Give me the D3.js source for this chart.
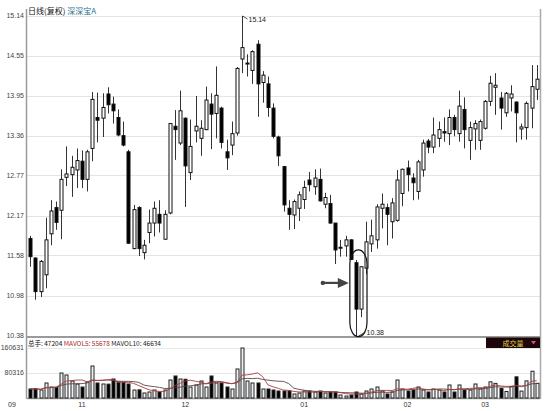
<!DOCTYPE html>
<html>
<head>
<meta charset="utf-8">
<script src="https://cdn.jsdelivr.net/npm/d3@7"></script>
<style>
body{margin:0;background:#fff;}
svg{display:block;font-family:"Liberation Sans",Arial,sans-serif;}
.cjk{font-family:"Noto Sans CJK SC","Liberation Sans",sans-serif;}
</style>
</head>
<body>
<svg id="chart" width="553" height="411"></svg>
<script>
// daily candles
var openPrices = [11.83,11.54,11.04,11.29,11.90,12.29,12.25,12.74,12.78,12.85,
  12.98,12.71,13.17,13.63,13.62,13.98,13.83,13.63,13.36,13.12,
  11.68,12.29,11.62,11.92,12.06,12.19,11.82,12.21,13.50,13.25,
  13.62,12.81,13.43,13.32,13.45,13.83,13.69,13.77,13.12,13.22,
  13.40,14.50,14.43,14.33,14.72,14.15,14.13,13.77,13.34,12.90,
  12.28,12.18,12.28,12.41,12.70,12.60,12.71,12.34,12.35,12.06,
  11.69,11.72,11.81,11.47,10.78,11.39,11.75,11.81,12.28,12.29,
  12.08,12.10,12.50,12.88,12.73,12.53,12.85,13.28,13.19,13.32,
  13.42,13.39,13.63,13.39,13.75,13.29,13.46,13.29,13.47,13.87,
  14.08,13.92,13.70,13.92,13.86,13.46,13.48,13.77,14.05];
var highPrices = [11.87,11.55,11.51,12.14,12.40,12.38,12.86,13.20,13.06,13.17,
  13.14,13.15,14.01,14.00,13.99,14.08,13.94,13.75,13.57,13.15,
  12.33,12.31,11.81,12.26,12.38,12.40,12.25,13.55,13.74,14.03,
  13.63,13.60,13.95,13.59,14.09,13.99,14.39,13.79,13.30,13.57,
  14.38,15.14,14.57,14.63,14.78,14.32,14.24,13.84,13.36,12.91,
  12.40,12.41,12.53,12.69,12.82,12.86,12.87,12.51,12.48,12.06,
  11.81,11.87,11.82,11.51,11.42,12.08,12.11,12.34,12.50,12.35,
  12.43,12.85,12.87,12.99,12.80,13.00,13.30,13.31,13.63,13.57,
  13.63,13.75,13.67,14.03,13.93,13.57,13.59,13.60,13.89,14.25,
  14.29,14.01,14.01,14.11,13.87,13.54,13.87,14.41,14.41];
var lowPrices = [11.41,10.92,10.96,11.09,11.73,11.96,11.82,12.61,12.45,12.58,
  12.58,12.53,12.98,13.26,13.34,13.69,13.54,13.35,13.20,11.75,
  11.67,11.57,11.52,11.76,11.86,11.92,11.81,12.19,13.00,13.22,
  12.30,12.70,13.26,13.06,13.44,13.16,13.32,13.17,12.85,13.07,
  13.36,14.29,14.24,14.13,13.64,13.85,13.64,13.32,12.91,12.23,
  11.96,11.97,12.09,12.27,12.53,12.48,12.38,12.28,12.05,11.45,
  11.56,11.56,11.51,10.38,10.66,11.30,11.63,11.68,11.98,11.73,
  11.83,12.08,12.31,12.53,12.40,12.41,12.75,13.10,13.10,13.19,
  13.27,13.22,13.35,13.27,13.17,13.00,13.15,13.15,13.45,13.80,
  13.67,13.45,13.64,13.72,13.26,13.30,13.30,13.47,13.89];
var closePrices = [11.56,11.04,11.49,11.81,12.24,12.07,12.71,12.79,12.89,12.99,
  12.71,13.12,13.90,13.59,13.78,13.82,13.73,13.37,13.22,11.76,
  12.26,11.68,11.73,12.06,12.28,12.06,12.19,13.54,13.45,13.73,
  12.91,13.20,13.50,13.47,13.89,13.68,13.96,13.26,13.03,13.39,
  14.36,14.67,14.44,14.61,14.13,14.26,13.78,13.35,13.06,12.33,
  12.19,12.38,12.48,12.59,12.63,12.73,12.39,12.44,12.06,11.66,
  11.70,11.81,11.52,10.78,11.41,11.78,11.87,12.30,12.34,12.19,
  12.36,12.70,12.86,12.78,12.66,12.97,13.25,13.19,13.37,13.45,
  13.40,13.63,13.45,13.80,13.45,13.48,13.54,13.57,13.87,14.14,
  14.11,13.77,13.99,13.98,13.70,13.49,13.84,14.09,14.20];
var volumes = [28900,29500,25700,48200,35300,34800,80300,73900,54600,45000,
  35300,51400,102800,48200,45000,44500,61000,51400,50800,45000,
  25700,26200,16100,19300,25700,19300,25700,57800,70700,61000,
  60200,35300,41800,54600,35300,70700,48200,48200,35300,28900,
  93200,160631,54600,48200,48200,28900,28900,25700,22500,22500,
  22500,12900,16100,22500,22500,19300,22500,16100,19300,19300,
  9600,6400,9600,19300,12900,22500,28900,35300,22500,12900,
  19300,57800,28900,22500,25700,35300,25700,19300,28900,25700,
  19300,41800,19300,41800,25700,25700,45000,28900,35300,52000,
  47000,31000,21000,36950,68000,22186,55000,86000,47204];

var priceTicks = [15.14,14.55,13.95,13.36,12.77,12.17,11.58,10.98,10.38];
var volTicks = [160631,80316];
var monthIdx = [0,10,30,53,73,88];
var monthLabels = ["09","11","12","01","02","03"];

var plotLeft = 27, plotRight = 540;
var svg = d3.select('#chart');

var x = d3.scaleLinear().domain([0, closePrices.length - 1]).range([30.3, 536.7]);
var y = d3.scaleLinear().domain([10.38, 15.14]).range([336, 16]);
var yv = d3.scaleLinear().domain([0, 160631]).range([398, 348]);

function px(v){ return Math.round(v) + 0.5; }
var idx = d3.range(closePrices.length);
function isUp(i){ return closePrices[i] >= openPrices[i]; }

// grid lines
svg.append('g').selectAll('line').data(priceTicks).enter().append('line')
  .attr('x1', plotLeft).attr('x2', plotRight)
  .attr('y1', function(d){ return px(y(d)); }).attr('y2', function(d){ return px(y(d)); })
  .attr('stroke', '#e4e4e4');
svg.append('g').selectAll('line').data(volTicks).enter().append('line')
  .attr('x1', plotLeft).attr('x2', plotRight)
  .attr('y1', function(d){ return px(yv(d)); }).attr('y2', function(d){ return px(yv(d)); })
  .attr('stroke', '#e8e8e8');

// price labels
svg.append('g').selectAll('text').data(priceTicks).enter().append('text')
  .attr('x', 24).attr('y', function(d){ return y(d); }).attr('dy', '0.35em')
  .attr('text-anchor', 'end').attr('font-size', 7).attr('fill', '#444')
  .text(function(d){ return d.toFixed(2); });
svg.append('g').selectAll('text').data(volTicks).enter().append('text')
  .attr('x', 24).attr('y', function(d){ return yv(d); }).attr('dy', '0.35em')
  .attr('text-anchor', 'end').attr('font-size', 7).attr('fill', '#444')
  .text(function(d){ return d; });

// frame
svg.append('line').attr('x1', 26.5).attr('x2', 26.5).attr('y1', 9).attr('y2', 399)
  .attr('stroke', '#9a9a9a').attr('stroke-width', 1.5);
svg.append('line').attr('x1', 540.5).attr('x2', 540.5).attr('y1', 9).attr('y2', 399)
  .attr('stroke', '#aaa').attr('stroke-width', 1.5);
svg.append('line').attr('x1', plotLeft).attr('x2', plotRight).attr('y1', 337).attr('y2', 337)
  .attr('stroke', '#9a9a9a').attr('stroke-width', 2);
svg.append('line').attr('x1', plotLeft).attr('x2', plotRight).attr('y1', 398.5).attr('y2', 398.5)
  .attr('stroke', '#9a9a9a').attr('stroke-width', 1.5);

// candles
var cg = svg.append('g');
cg.selectAll('line').data(idx).enter().append('line')
  .attr('x1', function(i){ return px(x(i)); }).attr('x2', function(i){ return px(x(i)); })
  .attr('y1', function(i){ return y(highPrices[i]); })
  .attr('y2', function(i){ return y(lowPrices[i]); })
  .attr('stroke', '#333');
cg.selectAll('rect').data(idx).enter().append('rect')
  .attr('x', function(i){ return Math.round(x(i)) - 1; })
  .attr('width', 3)
  .attr('y', function(i){ return y(Math.max(openPrices[i], closePrices[i])); })
  .attr('height', function(i){ return Math.max(1, Math.abs(y(openPrices[i]) - y(closePrices[i]))); })
  .attr('fill', function(i){ return isUp(i) ? '#fff' : '#000'; })
  .attr('stroke', '#111');

// volume bars
svg.append('g').selectAll('rect').data(idx).enter().append('rect')
  .attr('x', function(i){ return Math.round(x(i)) - 1; })
  .attr('width', 3)
  .attr('y', function(i){ return yv(volumes[i]); })
  .attr('height', function(i){ return yv(0) - yv(volumes[i]); })
  .attr('fill', function(i){ return isUp(i) ? '#eef2f5' : '#000'; })
  .attr('stroke', '#222');

function movingAvg(n){
  return idx.map(function(i){
    return d3.mean(volumes.slice(Math.max(0, i - n + 1), i + 1));
  });
}
var maLine = d3.line().x(function(d, i){ return x(i); }).y(function(d){ return yv(d); });
svg.append('path').attr('d', maLine(movingAvg(10))).attr('fill', 'none')
  .attr('stroke', '#5a4444').attr('stroke-width', 0.9);
svg.append('path').attr('d', maLine(movingAvg(5))).attr('fill', 'none')
  .attr('stroke', '#b03a3a').attr('stroke-width', 0.9);

// month labels
svg.append('g').selectAll('text').data(monthIdx).enter().append('text')
  .attr('x', function(d, k){ return k == 0 ? plotLeft - 15 : x(d); })
  .attr('y', 407).attr('text-anchor', 'middle').attr('font-size', 7).attr('fill', '#333')
  .text(function(d, k){ return monthLabels[k]; });

// header
var head = svg.append('text').attr('class', 'cjk').attr('x', 28).attr('y', 14).attr('font-size', 8);
head.append('tspan').attr('fill', '#111').text('日线(复权) ');
head.append('tspan').attr('fill', '#2b6f8c').text('深深宝A');

var n = volumes.length;
var ma5 = movingAvg(5), ma10 = movingAvg(10);
var vh = svg.append('text').attr('class', 'cjk').attr('x', 28).attr('y', 345.5).attr('font-size', 6.5);
vh.append('tspan').attr('fill', '#111').text('总手: ' + volumes[n - 1] + ' ');
vh.append('tspan').attr('fill', '#a52a2a').text('MAVOL5: ' + Math.round(ma5[n - 1]) + ' ');
vh.append('tspan').attr('fill', '#222').text('MAVOL10: ' + Math.round(ma10[n - 1]));

// 成交量 tab
svg.append('rect').attr('x', 486).attr('y', 337.5).attr('width', 54).attr('height', 10.5).attr('fill', '#1c060a');
svg.append('text').attr('class', 'cjk').attr('x', 513).attr('y', 345.8).attr('text-anchor', 'middle')
  .attr('font-size', 7).attr('fill', '#e3d24a').text('成交量');
svg.append('path').attr('d', 'M531,341 L536,341 L533.5,344.5 Z').attr('fill', '#d8507a');

// max / min markers
var iMax = d3.maxIndex(highPrices), iMin = d3.minIndex(lowPrices);
var hx = px(x(iMax)), hy = y(highPrices[iMax]);
svg.append('path').attr('d', 'M' + hx + ',' + hy + ' L' + (hx + 5) + ',' + (hy + 3))
  .attr('stroke', '#222').attr('fill', 'none').attr('stroke-width', 0.8);
svg.append('text').attr('x', hx + 6).attr('y', hy + 6).attr('font-size', 7).attr('fill', '#222')
  .text(highPrices[iMax].toFixed(2));
var lx = px(x(iMin)), ly = y(lowPrices[iMin]);
svg.append('path').attr('d', 'M' + (lx + 2) + ',' + ly + ' L' + (lx + 9) + ',' + (ly - 4))
  .attr('stroke', '#222').attr('fill', 'none').attr('stroke-width', 0.8);
svg.append('text').attr('x', lx + 10).attr('y', ly - 1).attr('font-size', 7).attr('fill', '#222')
  .text(lowPrices[iMin].toFixed(2));

// hand-drawn highlight round the two candles and the arrow
var ox = x(iMin) - 6, ow = x(iMin + 1) - x(iMin) + 12;
svg.append('rect').attr('x', ox).attr('y', y(11.66)).attr('width', ow).attr('height', y(10.37) - y(11.66))
  .attr('rx', 9).attr('ry', 14).attr('fill', 'none').attr('stroke', '#111').attr('stroke-width', 1.2);
var ay = y(11.17), ax = x(iMin) - 7;
svg.append('line').attr('x1', ax - 26).attr('x2', ax - 9).attr('y1', ay).attr('y2', ay)
  .attr('stroke', '#444').attr('stroke-width', 2.2);
svg.append('circle').attr('cx', ax - 26).attr('cy', ay).attr('r', 2.2).attr('fill', '#444');
svg.append('path').attr('d', 'M' + (ax - 11) + ',' + (ay - 5) + ' L' + ax + ',' + ay + ' L' + (ax - 11) + ',' + (ay + 5) + ' Z')
  .attr('fill', '#444');
</script>
</body>
</html>
